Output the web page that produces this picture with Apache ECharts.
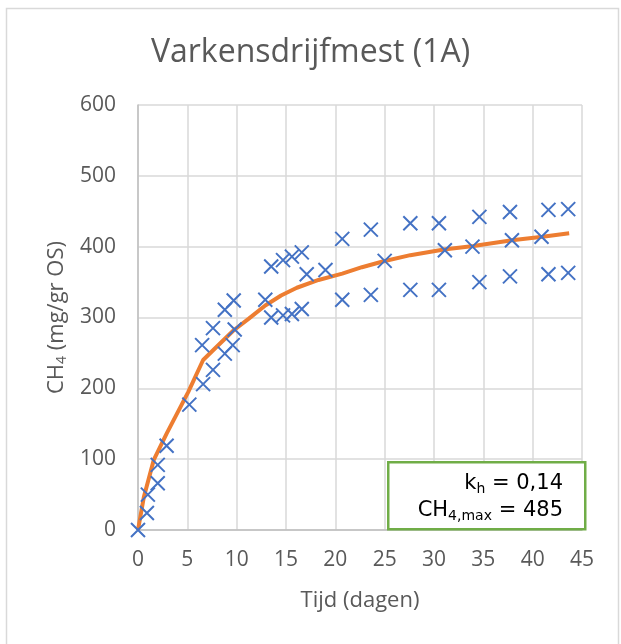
<!DOCTYPE html>
<html>
<head>
<meta charset="utf-8">
<script src="https://cdn.jsdelivr.net/npm/echarts@6/dist/echarts.min.js"></script>
<style>html,body{margin:0;padding:0;background:#fff;}#c{width:621px;height:644px;}</style>
</head>
<body>
<div id="c"></div>
<script>
// Measured data (day, CH4 mg/gr OS)
var measuredDays = [0,0.9,1.0,2.0,2.0,2.9,5.2,6.6,6.5,7.6,7.6,8.8,8.8,9.6,9.8,9.7,12.9,13.5,13.5,14.7,14.7,15.6,15.6,16.6,16.6,17.1,19.0,20.7,20.7,23.6,23.6,25.0,27.6,27.6,30.5,30.5,31.1,33.9,34.6,34.6,37.7,37.7,37.9,40.9,41.6,41.6,43.6,43.6];
var measuredCH4 = [0,24,50,66,92,119,177,206,261,226,285,249,311,261,283,324,325,300,372,303,381,305,386,312,392,361,367,325,411,332,424,380,339,433,339,433,395,400,350,442,358,449,409,414,361,452,363,453];
// Model curve
var modelDays = [0,0.6,1.6,2.9,5.1,6.6,8.0,9.7,11.2,12.9,14.5,16.1,18.3,20.7,22.7,24.8,27.6,31.0,34.0,37.9,41.0,43.7];
var modelCH4 = [0,47,99,136,195,240,259,282,298,317,331,342,353,362,371,379,388,396,401,409,414,419];
var xTicks = [0,5,10,15,20,25,30,35,40,45];
var yTicks = [0,100,200,300,400,500,600];
var title = 'Varkensdrijfmest (1A)';

var scatterData = measuredDays.map(function(d,i){return [d, measuredCH4[i]];});
var lineData = modelDays.map(function(d,i){return [d, modelCH4[i]];});

var chart = echarts.init(document.getElementById('c'));
var txt = '#595959';
var font = 'Open Sans';
chart.setOption({
  animation: false,
  backgroundColor: '#fff',
  title: {
    text: title, left: 'center', top: 32,
    textStyle: {fontFamily: font, fontSize: 32, fontWeight: 'normal', color: txt}
  },
  grid: {left: 138, right: 39, top: 105, bottom: 114},
  xAxis: {
    type: 'value', min: xTicks[0], max: xTicks[xTicks.length-1], interval: 5,
    name: 'Tijd (dagen)', nameLocation: 'middle', nameGap: 60,
    nameTextStyle: {fontFamily: font, fontSize: 22, color: txt},
    axisLine: {show: true, lineStyle: {color: '#bfbfbf', width: 1.5}},
    axisTick: {show: false},
    axisLabel: {fontFamily: font, fontSize: 21, color: txt, margin: 20},
    splitLine: {show: true, lineStyle: {color: '#d9d9d9', width: 1.5}}
  },
  yAxis: {
    type: 'value', min: yTicks[0], max: yTicks[yTicks.length-1], interval: 100,
    name: '{a|CH}{s|4}{a| (mg/gr OS)}', nameLocation: 'middle', nameGap: 64, nameRotate: 90,
    nameTextStyle: {
      rich: {
        a: {fontFamily: font, fontSize: 22, color: txt},
        s: {fontFamily: font, fontSize: 14, color: txt, padding: [10,0,0,0]}
      }
    },
    axisLine: {show: true, lineStyle: {color: '#bfbfbf', width: 1.5}},
    axisTick: {show: false},
    axisLabel: {fontFamily: font, fontSize: 21, color: txt, margin: 22},
    splitLine: {show: true, lineStyle: {color: '#d9d9d9', width: 1.5}}
  },
  series: [
    {
      type: 'line', data: lineData, showSymbol: false, symbol: 'none',
      lineStyle: {color: '#ED7D31', width: 4}, z: 3
    },
    {
      type: 'scatter', data: scatterData,
      symbol: 'path://M0,0L10,10M10,0L0,10', symbolSize: 14,
      itemStyle: {color: 'rgba(0,0,0,0)', borderColor: '#4472C4', borderWidth: 2, opacity: 1},
      z: 4
    }
  ],
  graphic: [
    {type: 'rect', left: 4, top: 6, shape: {width: 612, height: 650},
     style: {fill: 'none', stroke: '#d9d9d9', lineWidth: 1.5}, z: -1, silent: true},
    {type: 'rect', left: 387, top: 461, shape: {width: 197, height: 67},
     style: {fill: '#fff', stroke: '#70AD47', lineWidth: 2.5}, z: 10},
    {type: 'text', right: 621-563, top: 473, z: 11,
     style: {text: '{a|k}{s|h}{a| = 0,14}', align: 'right',
       rich: {a: {fontFamily: 'DejaVu Sans', fontSize: 21, fill: '#000'},
              s: {fontFamily: 'DejaVu Sans', fontSize: 14, fill: '#000', padding: [12,0,0,0]}}}},
    {type: 'text', right: 621-563, top: 500, z: 11,
     style: {text: '{a|CH}{s|4,max}{a| = 485}', align: 'right',
       rich: {a: {fontFamily: 'DejaVu Sans', fontSize: 21, fill: '#000'},
              s: {fontFamily: 'DejaVu Sans', fontSize: 14, fill: '#000', padding: [12,0,0,0]}}}}
  ]
});
</script>
</body>
</html>
